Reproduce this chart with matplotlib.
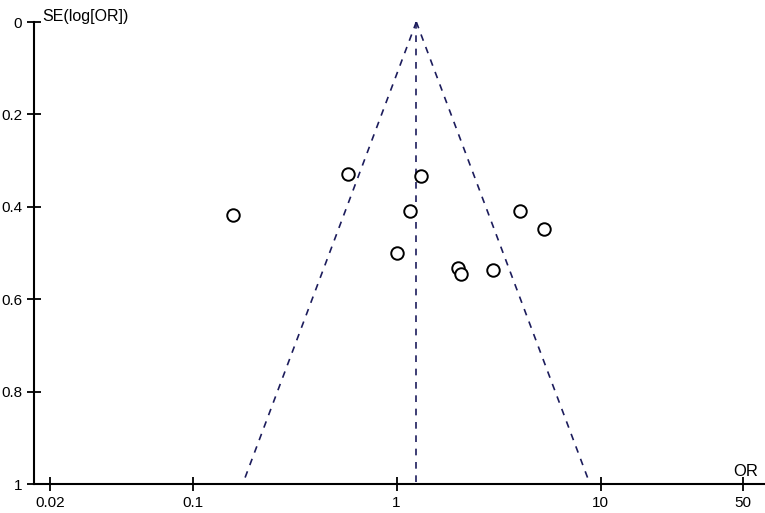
import numpy as np
import matplotlib.pyplot as plt

plt.rcParams['font.family'] = ['Liberation Sans', 'DejaVu Sans']

# study estimates
or_values = [0.158, 0.577, 1.32, 1.17, 4.01, 5.31, 1.0, 2.0, 2.06, 2.97]
se_values = [0.418, 0.330, 0.333, 0.410, 0.410, 0.447, 0.501, 0.533, 0.546, 0.537]
pooled_or = 1.25
se_max = 1.0

xticks = [0.02, 0.1, 1, 10, 50]
xtick_labels = ['0.02', '0.1', '1', '10', '50']
yticks = [0, 0.2, 0.4, 0.6, 0.8, 1]
ytick_labels = ['0', '0.2', '0.4', '0.6', '0.8', '1']

navy = '#1c1c5c'

fig = plt.figure(figsize=(7.65, 5.13), dpi=100)
ax = fig.add_axes([34/765, 1-484/513, 1-34/765, (484-22)/513])

# funnel (95% pseudo confidence limits)
se_line = np.array([0, se_max])
lo = np.exp(np.log(pooled_or) - 1.96*se_line)
hi = np.exp(np.log(pooled_or) + 1.96*se_line)
ax.plot(lo, se_line, ls=(0, (4, 4)), color=navy, lw=1.2)
ax.plot(hi, se_line, ls=(0, (4, 4)), color=navy, lw=1.2)
ax.plot([pooled_or, pooled_or], se_line, ls=(0, (4, 4)), color=navy, lw=1.2)

ax.plot(or_values, se_values, 'o', mfc='white', mec='black', ms=9, mew=1.4, ls='none')

ax.set_xscale('log')
ax.set_xlim(0.0167, 64)
ax.set_ylim(1, 0)
ax.set_xticks(xticks)
ax.set_xticklabels(xtick_labels)
ax.minorticks_off()
ax.set_yticks(yticks)
ax.set_yticklabels(ytick_labels)
ax.tick_params(direction='inout', length=10, width=1.3, labelsize=11, colors='black')

ax.spines['top'].set_visible(False)
ax.spines['right'].set_visible(False)
ax.spines['left'].set_linewidth(1.5)
ax.spines['bottom'].set_linewidth(1.5)

fig.text(42/765, 1-16/513, 'SE(log[OR])', fontsize=11.5, va='center', ha='left')
fig.text(746/765, 1-472/513, 'OR', fontsize=12, va='center', ha='center')

fig.savefig('out.png', dpi=100)
